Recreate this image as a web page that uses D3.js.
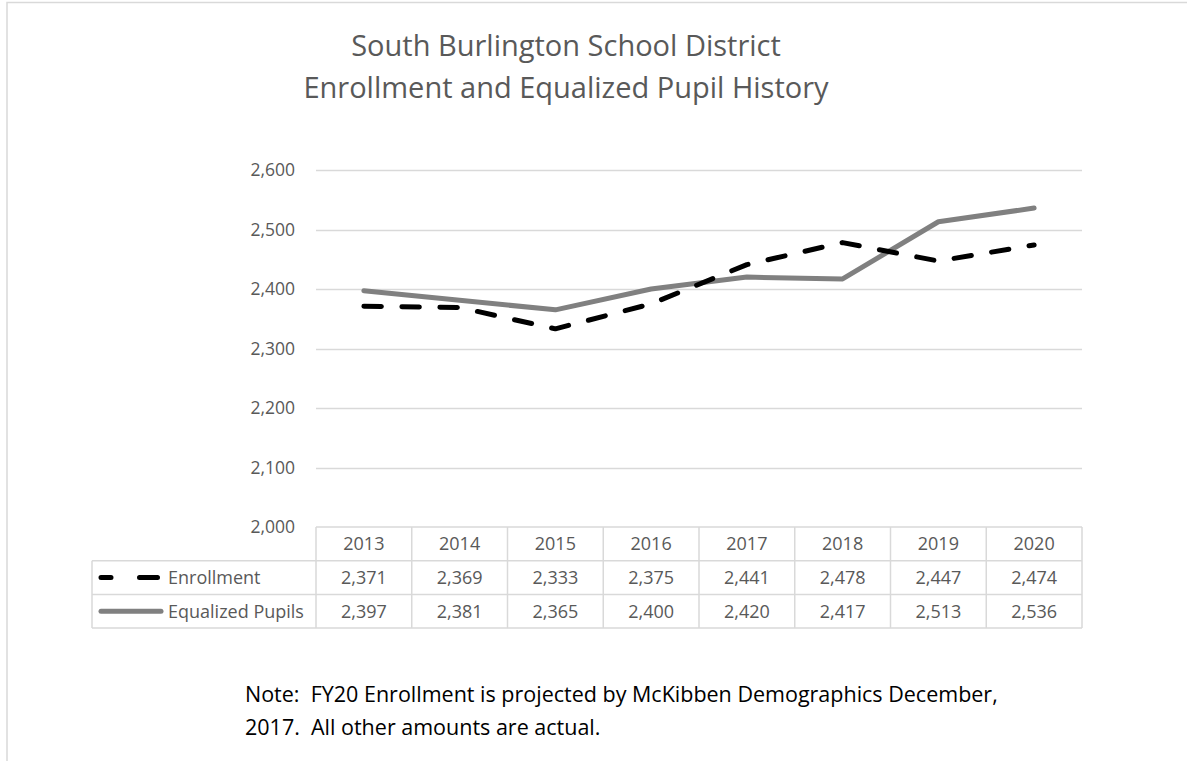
<!DOCTYPE html>
<html>
<head>
<meta charset="utf-8">
<script src="https://cdn.jsdelivr.net/npm/d3@7/dist/d3.min.js"></script>
<style>
  body { margin: 0; background: #fff; }
  svg { display: block; font-family: "Open Sans", sans-serif; }
</style>
</head>
<body>
<div id="chart"></div>
<script>
// chart data
const years = ["2013", "2014", "2015", "2016", "2017", "2018", "2019", "2020"];
const enrollment = [2371, 2369, 2333, 2375, 2441, 2478, 2447, 2474];
const equalized = [2397, 2381, 2365, 2400, 2420, 2417, 2513, 2536];
const yTicks = [2000, 2100, 2200, 2300, 2400, 2500, 2600];
const titleLines = ["South Burlington School District", "Enrollment and Equalized Pupil History"];
const noteLines = ["Note:  FY20 Enrollment is projected by McKibben Demographics December,", "2017.  All other amounts are actual."];

const w = 1187, h = 761;
const svg = d3.select("#chart").append("svg").attr("width", w).attr("height", h);

// outer chart border
svg.append("rect").attr("x", 7).attr("y", 2.5).attr("width", 1300).attr("height", 900)
  .attr("fill", "none").attr("stroke", "#d9d9d9").attr("stroke-width", 1.5);

// title
svg.append("g").selectAll("text").data(titleLines).join("text")
  .attr("x", 566).attr("y", (d, i) => 56 + i * 42)
  .attr("text-anchor", "middle").attr("font-size", 29).attr("fill", "#595959")
  .text(d => d);

// scales
const x = d3.scaleBand().domain(years).range([316, 1082]);
const y = d3.scaleLinear().domain([2000, 2600]).range([527, 170]);

// gridlines
svg.append("g").selectAll("line").data(yTicks.slice(1)).join("line")
  .attr("x1", 316).attr("x2", 1082)
  .attr("y1", d => Math.round(y(d)) + 0.5).attr("y2", d => Math.round(y(d)) + 0.5)
  .attr("stroke", "#d9d9d9").attr("stroke-width", 1.5);

// y axis labels
const yAxis = d3.axisLeft(y).tickValues(yTicks).tickFormat(d3.format(",")).tickSize(0).tickPadding(21);
const yg = svg.append("g").attr("transform", "translate(316,0)").call(yAxis);
yg.select(".domain").remove();
yg.selectAll("text").attr("font-size", 17.5).attr("fill", "#595959").attr("font-family", "Open Sans, sans-serif");

// lines
const line = d3.line().x((d, i) => x(years[i]) + x.bandwidth() / 2).y(d => y(d));

svg.append("path").datum(equalized).attr("d", line)
  .attr("fill", "none").attr("stroke", "#808080").attr("stroke-width", 5)
  .attr("stroke-linejoin", "round").attr("stroke-linecap", "round");

svg.append("path").datum(enrollment).attr("d", line)
  .attr("fill", "none").attr("stroke", "#000").attr("stroke-width", 5)
  .attr("stroke-dasharray", "17.5,20.5").attr("stroke-linecap", "round")
  .attr("stroke-linejoin", "round");

// data table
const rowTop = 527, rowH = 33.7, tableLeft = 92;
const rows = [
  { name: "Enrollment", values: enrollment, dash: true },
  { name: "Equalized Pupils", values: equalized, dash: false }
];
const tg = svg.append("g");
const gridColor = "#d9d9d9";

// header row (years)
tg.append("line").attr("x1", 316).attr("x2", 1082).attr("y1", rowTop).attr("y2", rowTop)
  .attr("stroke", gridColor).attr("stroke-width", 1.5);
tg.selectAll(".yr").data(years).join("text").attr("class", "yr")
  .attr("x", d => x(d) + x.bandwidth() / 2).attr("y", rowTop + rowH / 2 + 6.5)
  .attr("text-anchor", "middle").attr("font-size", 18).attr("fill", "#595959").text(d => d);

// horizontal lines for data rows
[1, 2, 3].forEach(k => {
  tg.append("line").attr("x1", tableLeft).attr("x2", 1082)
    .attr("y1", rowTop + rowH * k).attr("y2", rowTop + rowH * k)
    .attr("stroke", gridColor).attr("stroke-width", 1.5);
});
// vertical lines
tg.append("line").attr("x1", tableLeft).attr("x2", tableLeft)
  .attr("y1", rowTop + rowH).attr("y2", rowTop + rowH * 3).attr("stroke", gridColor).attr("stroke-width", 1.5);
years.concat(["end"]).forEach((d, i) => {
  const xx = i < years.length ? x(d) : x.range()[1];
  tg.append("line").attr("x1", xx).attr("x2", xx)
    .attr("y1", rowTop).attr("y2", rowTop + rowH * 3).attr("stroke", gridColor).attr("stroke-width", 1.5);
});

rows.forEach((r, ri) => {
  const cy = rowTop + rowH * (ri + 1) + rowH / 2;
  tg.selectAll(".v" + ri).data(r.values).join("text").attr("class", "v" + ri)
    .attr("x", (d, i) => x(years[i]) + x.bandwidth() / 2).attr("y", cy + 6.5)
    .attr("text-anchor", "middle").attr("font-size", 18).attr("fill", "#595959")
    .text(d => d3.format(",")(d));
  // legend key
  const key = tg.append("line").attr("x1", 101).attr("x2", r.dash ? 157.5 : 161).attr("y1", cy).attr("y2", cy)
    .attr("stroke", r.dash ? "#000" : "#808080").attr("stroke-width", 5).attr("stroke-linecap", "round");
  if (r.dash) key.attr("stroke-dasharray", "10,28.5,18,100");
  tg.append("text").attr("x", 168).attr("y", cy + 6.5)
    .attr("font-size", 18).attr("fill", "#595959").text(r.name);
});

// note
svg.append("g").selectAll("text").data(noteLines).join("text")
  .attr("x", 245).attr("y", (d, i) => 701.5 + i * 33)
  .attr("xml:space", "preserve").style("white-space", "pre")
  .attr("font-size", 21.5).attr("fill", "#000").text(d => d);
</script>
</body>
</html>
